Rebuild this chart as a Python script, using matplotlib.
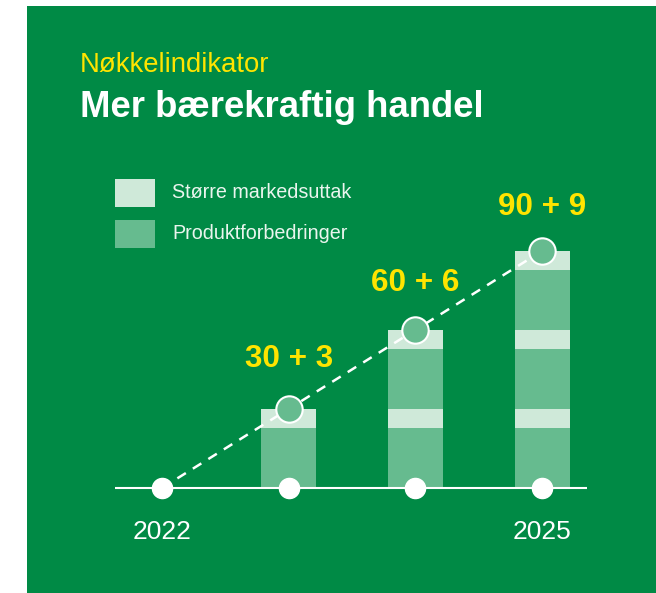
import matplotlib.pyplot as plt
from matplotlib.patches import Rectangle

plt.rcParams['font.family'] = ['Liberation Sans', 'DejaVu Sans']

# data
years = ["2022", "2023", "2024", "2025"]
year_labels = ["2022", "", "", "2025"]
produkt = [0, 30, 60, 90]   # Produktforbedringer
marked = [0, 3, 6, 9]       # Større markedsuttak
block_produkt = 30
block_marked = 3

GREEN = "#008a45"
MED = "#66bb8f"
LIGHT = "#cfe9d9"
YELLOW = "#ffe400"
TXT = "#eaf5ee"

band_scale = 3.17   # light band is drawn thicker than its value
W, H = 656, 593


def fx(x):
    return x / W


def fy(y):
    return 1 - y / H


fig = plt.figure(figsize=(W / 100, H / 100), dpi=100)
fig.patch.set_facecolor("white")
fig.patches.append(Rectangle((fx(27), 0), 1 - fx(27), fy(6), transform=fig.transFigure,
                             facecolor=GREEN, edgecolor="none", zorder=-2))

# titles
fig.text(fx(80), fy(72), "Nøkkelindikator", color=YELLOW, fontsize=19.8, va="baseline")
fig.text(fx(80), fy(117), "Mer bærekraftig handel", color="white", fontsize=26.3,
         weight="bold", va="baseline")

# legend
for yy, c, lab in [(179, LIGHT, "Større markedsuttak"), (220, MED, "Produktforbedringer")]:
    fig.patches.append(Rectangle((fx(115), fy(yy + 28)), 40 / W, 28 / H, transform=fig.transFigure,
                                 facecolor=c, edgecolor="none", zorder=-1))
    fig.text(fx(172), fy(yy + 19), lab, color=TXT, fontsize=14.2, va="baseline")

# chart area
ax = fig.add_axes([fx(100), fy(560), 500 / W, 390 / H])
ax.set_zorder(2)
ax.set_xlim(-62 / 127, 3 + 58 / 127)
ax.set_ylim(-36, 159)
ax.axis("off")

x = list(range(len(years)))
bw = 55 / 127
tops = []
for i in x:
    n = produkt[i] // block_produkt
    base = 0
    for k in range(n):
        ax.bar(i, block_produkt, bottom=base, width=bw, color=MED, zorder=1)
        base += block_produkt
        h = block_marked * band_scale
        ax.bar(i, h, bottom=base, width=bw, color=LIGHT, zorder=1)
        base += h
    tops.append(base)

ax.plot(x, tops, color="white", lw=1.8, dashes=(4, 3.3), zorder=3)
ax.plot([-0.37, 3.354], [0, 0], color="white", lw=1.5, zorder=2, solid_capstyle="butt")
ax.plot(x, [0] * len(x), "o", ms=14.5, color="white", zorder=4)
ax.plot(x[1:], tops[1:], "o", ms=19, mfc=MED, mec="white", mew=1.5, zorder=5)

label_dy = [0, 50, 47, 43.5]
for i in x[1:]:
    ax.annotate(f"{produkt[i]} + {marked[i]}", (i, tops[i]), xytext=(0, label_dy[i] * 0.72),
                textcoords="offset points", ha="center", va="center", fontsize=22.6,
                weight="bold", color=YELLOW)

for i in x:
    if year_labels[i]:
        ax.annotate(year_labels[i], (i, 0), xytext=(0, -51 * 0.72), textcoords="offset points",
                    ha="center", va="baseline", fontsize=19, color="white")

fig.savefig("out.png", dpi=100)
